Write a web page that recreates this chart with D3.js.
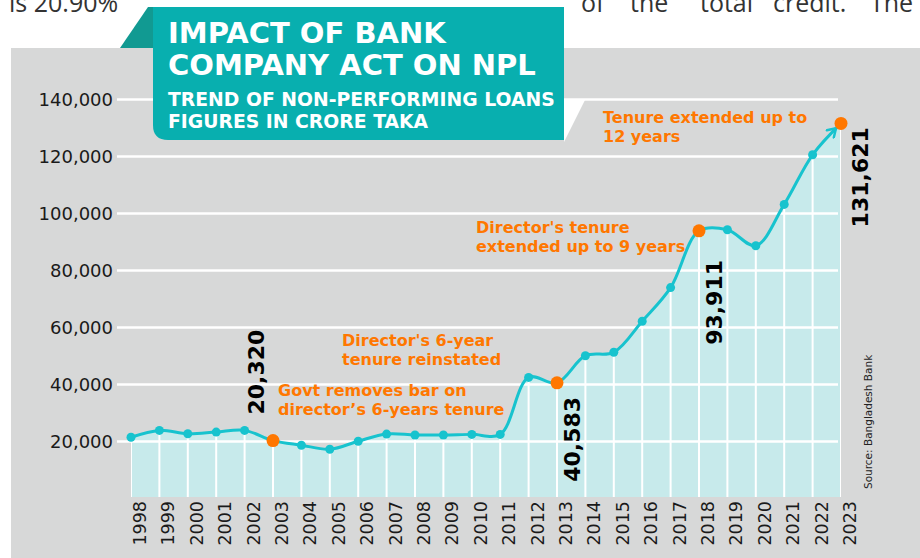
<!DOCTYPE html>
<html>
<head>
<meta charset="utf-8">
<script src="https://cdn.jsdelivr.net/npm/d3@7"></script>
<style>
  html, body { margin: 0; padding: 0; background: #fff; overflow: hidden; }
  svg { display: block; }
</style>
</head>
<body>
<div id="chart"></div>
<script>
// NPL trend, crore taka (Bangladesh Bank)
const years = [1998, 1999, 2000, 2001, 2002, 2003, 2004, 2005, 2006, 2007, 2008, 2009, 2010,
               2011, 2012, 2013, 2014, 2015, 2016, 2017, 2018, 2019, 2020, 2021, 2022, 2023];
const npl = [21500, 23900, 22700, 23300, 23900, 20320, 18700, 17300, 20100, 22600, 22300, 22300, 22500,
             22500, 42500, 40583, 50100, 51300, 62200, 74000, 93911, 94300, 88700, 103200, 120600, 131621];
const yTicks = [20000, 40000, 60000, 80000, 100000, 120000, 140000];
const highlightYears = [2003, 2013, 2018, 2023];
const noteLines = {
  2003: ["Govt removes bar on", "director\u2019s 6-years tenure"],
  2013: ["Director's 6-year", "tenure reinstated"],
  2018: ["Director's tenure", "extended up to 9 years"],
  2023: ["Tenure extended up to", "12 years"]
};

// label placement relative to the highlighted point
const placement = {
  2003: { vx: -9, vy: -26, nx: 5, ny: -45 },
  2013: { vx: 23, vy: 99, nx: -215, ny: -37 },
  2018: { vx: 23, vy: 114, nx: -223, ny: 2 },
  2023: { vx: 27, vy: 104, nx: -238, ny: 0 }
};

const W = 920, H = 558;
const teal = "#08afaf", line = "#17c3ce", fillC = "#c7eaeb", orange = "#ff7700", bg = "#d7d8d8";
const plotBottom = 497;

const data = years.map((yr, i) => ({ year: yr, value: npl[i] }));

const svg = d3.select("#chart").append("svg")
  .attr("width", W).attr("height", H)
  .style("font-family", "'DejaVu Sans', Verdana, sans-serif");

// page text cut off above the graphic
svg.append("text").attr("x", 9).attr("y", 12)
  .attr("font-family", "'Open Sans', sans-serif").attr("font-size", 25).attr("fill", "#333")
  .text("is 20.90%");
const words = ["of", "the", "total", "credit.", "The"];
const wordX = [581, 630, 700, 773, 870];
svg.selectAll(".word").data(words).join("text")
  .attr("x", (d, i) => wordX[i]).attr("y", 12)
  .attr("font-family", "'Open Sans', sans-serif").attr("font-size", 25).attr("fill", "#333")
  .text(d => d);

svg.append("rect").attr("x", 11).attr("y", 48).attr("width", W - 11).attr("height", H - 48).attr("fill", bg);

const x = d3.scalePoint().domain(years).range([131, 841]);
const y = d3.scaleLinear().domain([0, 140000]).range([498.5, 99.5]);

const curve = d3.curveCatmullRom.alpha(0.5);

const area = d3.area().x(d => x(d.year)).y0(plotBottom).y1(d => y(d.value)).curve(curve);
const lineGen = d3.line().x(d => x(d.year)).y(d => y(d.value)).curve(curve);

svg.append("clipPath").attr("id", "areaClip")
  .append("path").attr("d", area(data));

svg.append("path").attr("d", area(data)).attr("fill", fillC);

// horizontal grid + y labels
svg.selectAll(".hgrid").data(yTicks).join("line")
  .attr("x1", 117).attr("x2", 838)
  .attr("y1", d => y(d)).attr("y2", d => y(d))
  .attr("stroke", "#fff").attr("stroke-width", 2.5);

svg.selectAll(".ylab").data(yTicks).join("text")
  .attr("x", 113).attr("y", d => y(d) + 6.5)
  .attr("text-anchor", "end").attr("font-size", 18).attr("fill", "#1a1a1a")
  .text(d => d3.format(",")(d));

// vertical grid inside the area
svg.append("g").attr("clip-path", "url(#areaClip)")
  .selectAll("line").data(years).join("line")
  .attr("x1", d => x(d)).attr("x2", d => x(d))
  .attr("y1", 90).attr("y2", plotBottom)
  .attr("stroke", "#fff").attr("stroke-width", 2);

// year labels
svg.selectAll(".xlab").data(years).join("text")
  .attr("transform", d => `translate(${x(d) + 15},501) rotate(-90)`)
  .attr("text-anchor", "end").attr("font-size", 17.5).attr("fill", "#1a1a1a")
  .text(d => d);

// header
const header = svg.append("g");
header.append("polygon").attr("points", "120,48 148,7 154,7 154,48").attr("fill", "#119a92");
header.append("path")
  .attr("d", "M153,7 H564 V140 H168 Q153,140 153,125 Z")
  .attr("fill", teal);
header.append("polygon").attr("points", "564,100 585,100 564,142").attr("fill", "#fff");
header.selectAll(".t").data(["IMPACT OF BANK", "COMPANY ACT ON NPL"]).join("text")
  .attr("x", 168).attr("y", (d, i) => 43 + i * 32)
  .attr("font-size", 29).attr("font-weight", "bold").attr("fill", "#fff")
  .text(d => d);
header.selectAll(".s").data(["TREND OF NON-PERFORMING LOANS", "FIGURES IN CRORE TAKA"]).join("text")
  .attr("x", 168).attr("y", (d, i) => 106 + i * 22)
  .attr("font-size", 18.8).attr("font-weight", "bold").attr("fill", "#fff")
  .text(d => d);

// arrow marker
svg.append("defs").append("marker")
  .attr("id", "arrow").attr("viewBox", "0 -6 20 12")
  .attr("markerWidth", 20).attr("markerHeight", 12)
  .attr("markerUnits", "userSpaceOnUse")
  .attr("refX", 19).attr("refY", 0).attr("orient", "auto")
  .append("path").attr("d", "M4,-5 L12,0 L4,5")
  .attr("fill", "none").attr("stroke", line).attr("stroke-width", 2.5)
  .attr("stroke-linecap", "round").attr("stroke-linejoin", "round");

svg.append("path").attr("d", lineGen(data))
  .attr("fill", "none").attr("stroke", line).attr("stroke-width", 3)
  .attr("marker-end", "url(#arrow)");

svg.selectAll(".dot").data(data.filter(d => !highlightYears.includes(d.year))).join("circle")
  .attr("cx", d => x(d.year)).attr("cy", d => y(d.value)).attr("r", 4.5)
  .attr("fill", line);

const hl = data.filter(d => highlightYears.includes(d.year));
svg.selectAll(".hdot").data(hl).join("circle")
  .attr("cx", d => x(d.year)).attr("cy", d => y(d.value)).attr("r", 6.5)
  .attr("fill", orange);

// value labels
svg.selectAll(".vlab").data(hl).join("text")
  .attr("transform", d => `translate(${x(d.year) + placement[d.year].vx},${y(d.value) + placement[d.year].vy}) rotate(-90)`)
  .attr("font-size", 22).attr("font-weight", "bold").attr("fill", "#000")
  .text(d => d3.format(",")(d.value));

// notes
hl.forEach(d => {
  const p = placement[d.year];
  svg.append("text")
    .attr("font-size", 16).attr("font-weight", "bold").attr("fill", orange)
    .selectAll("tspan").data(noteLines[d.year]).join("tspan")
    .attr("x", x(d.year) + p.nx)
    .attr("y", (t, i) => y(d.value) + p.ny + i * 19)
    .text(t => t);
});

// source
svg.append("text")
  .attr("transform", "translate(872,489) rotate(-90)")
  .attr("font-size", 10.5).attr("fill", "#222")
  .text("Source: Bangladesh Bank");
</script>
</body>
</html>
